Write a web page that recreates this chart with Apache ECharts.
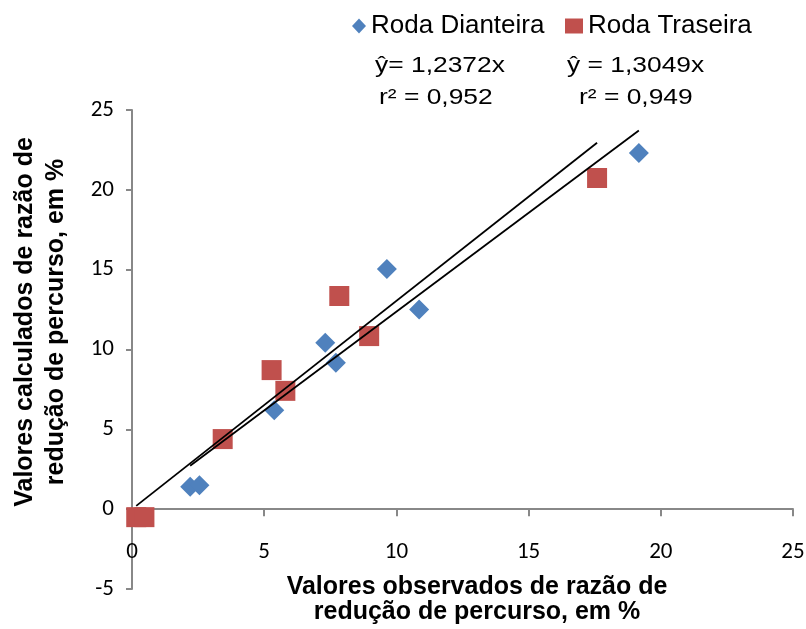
<!DOCTYPE html>
<html>
<head>
<meta charset="utf-8">
<script src="https://cdn.jsdelivr.net/npm/echarts@6/dist/echarts.min.js"></script>
<style>
  html, body { margin: 0; padding: 0; background: #ffffff; }
  #chart { width: 806px; height: 629px; }
</style>
</head>
<body>
<div id="chart"></div>
<script>
// Observed (x) vs calculated (y) travel reduction ratio, %
const dianteiraObs  = [2.2, 2.55, 5.38, 7.31, 7.71, 9.64, 10.86, 19.17];
const dianteiraCalc = [1.4, 1.5, 6.2, 10.42, 9.17, 15.04, 12.51, 22.31];
const traseiraObs   = [0.16, 0.47, 3.43, 5.28, 5.8, 7.84, 8.97, 17.59];
const traseiraCalc  = [-0.5, -0.5, 4.39, 8.71, 7.41, 13.35, 10.84, 20.74];

// Regression through the origin for each series
const seriesNames = ['Roda Dianteira', 'Roda Traseira'];
const slopes = [1.2372, 1.3049];
const rSquared = ['0,952', '0,949'];

const xTicks = [0, 5, 10, 15, 20, 25];
const yTicks = [-5, 0, 5, 10, 15, 20, 25];

const toPairs = (xs, ys) => xs.map((x, i) => [x, ys[i]]);
const trendLine = (xs, k) => {
  const lo = Math.min(...xs), hi = Math.max(...xs);
  return [[lo, k * lo], [hi, k * hi]];
};
const fmt = v => v.toFixed(4).replace('.', ',');

const chart = echarts.init(document.getElementById('chart'), null, { renderer: 'canvas' });

const axisColor = '#888888';
const tickFont = 'Carlito, Lato, sans-serif';
const textFont = '"Liberation Sans", Arial, sans-serif';

// equation text, slightly widened
const eqText = (txt, x, y) => ({
  type: 'text', x: x, y: y, scaleX: 1.2, z: 10,
  style: { text: txt, font: '22px ' + textFont, fill: '#000', align: 'left', verticalAlign: 'middle' }
});

chart.setOption({
  backgroundColor: '#ffffff',
  animation: false,
  grid: { left: 132, top: 110, right: 13, bottom: 40, outerBoundsMode: 'none', containLabel: false },
  legend: [
    {
      data: [{ name: seriesNames[0], icon: 'diamond' }],
      left: 352, top: 13, padding: 0,
      itemWidth: 14, itemHeight: 15,
      textStyle: { fontFamily: textFont, fontSize: 26, color: '#000' },
      selectedMode: false
    },
    {
      data: [{ name: seriesNames[1], icon: 'rect' }],
      left: 565, top: 13, padding: 0,
      itemWidth: 18, itemHeight: 15,
      textStyle: { fontFamily: textFont, fontSize: 26, color: '#000' },
      selectedMode: false
    }
  ],
  xAxis: {
    type: 'value',
    min: xTicks[0], max: xTicks[xTicks.length - 1], interval: 5,
    axisLine: { onZero: true, lineStyle: { color: axisColor, width: 2 } },
    axisTick: { show: true, length: 7, lineStyle: { color: axisColor, width: 2 } },
    axisLabel: { margin: -48, fontFamily: tickFont, fontSize: 23, color: '#000' },
    splitLine: { show: false }
  },
  yAxis: {
    type: 'value',
    min: yTicks[0], max: yTicks[yTicks.length - 1], interval: 5,
    axisLine: { show: true, onZero: false, lineStyle: { color: axisColor, width: 2 } },
    axisTick: { show: true, length: 6, lineStyle: { color: axisColor, width: 2 } },
    axisLabel: { margin: 18, fontFamily: tickFont, fontSize: 23, color: '#000' },
    splitLine: { show: false }
  },
  series: [
    {
      name: seriesNames[0], type: 'scatter', symbol: 'diamond', symbolSize: 20,
      itemStyle: { color: '#4F81BD', opacity: 1 },
      data: toPairs(dianteiraObs, dianteiraCalc), z: 2
    },
    {
      name: seriesNames[1], type: 'scatter', symbol: 'rect', symbolSize: 20,
      itemStyle: { color: '#C0504D', opacity: 1 },
      data: toPairs(traseiraObs, traseiraCalc), z: 3
    },
    {
      name: 'trend-d', type: 'line', showSymbol: false, silent: true,
      lineStyle: { color: '#000', width: 1.8 },
      data: trendLine(dianteiraObs, slopes[0]), z: 5
    },
    {
      name: 'trend-t', type: 'line', showSymbol: false, silent: true,
      lineStyle: { color: '#000', width: 1.8 },
      data: trendLine(traseiraObs, slopes[1]), z: 5
    }
  ],
  graphic: [
    eqText('ŷ= ' + fmt(slopes[0]) + 'x', 375, 66),
    eqText('r² = ' + rSquared[0], 379, 98),
    eqText('ŷ = ' + fmt(slopes[1]) + 'x', 567, 66),
    eqText('r² = ' + rSquared[1], 579, 98),
    {
      type: 'text', x: 477, y: 600, z: 10,
      style: {
        text: 'Valores observados de razão de\nredução de percurso, em %',
        font: 'bold 25px ' + textFont, fill: '#000',
        align: 'center', verticalAlign: 'middle', lineHeight: 25
      }
    },
    {
      type: 'text', x: 41, y: 322, rotation: Math.PI / 2, z: 10,
      style: {
        text: 'Valores calculados de razão de\nredução de percurso, em %',
        font: 'bold 25px ' + textFont, fill: '#000',
        align: 'center', verticalAlign: 'middle', lineHeight: 31
      }
    }
  ]
});
</script>
</body>
</html>
